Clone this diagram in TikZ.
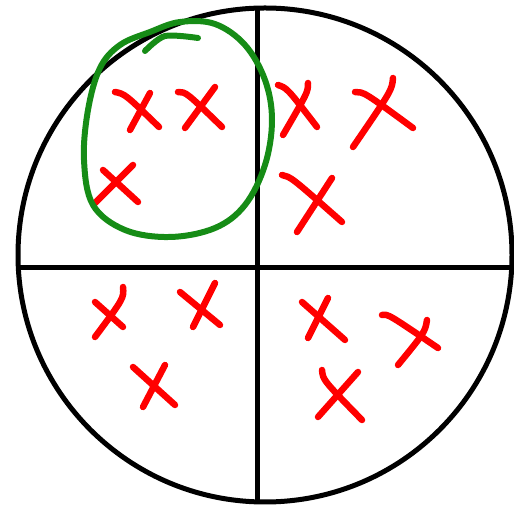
\documentclass[tikz,border=0pt]{standalone}
\usepackage{tikz}
\usetikzlibrary{calc}
\definecolor{loopgreen}{RGB}{22,140,22}
\tikzset{
  outline/.style={black,line width=0.1cm},
  redstroke/.style={red,line width=0.13cm,line cap=round,line join=round},
  greenloop/.style={loopgreen,line width=0.12cm,line cap=round,line join=round}
}
\begin{document}
\begin{tikzpicture}[x=0.02cm,y=-0.02cm]
  \useasboundingbox (0,0) rectangle (514,509);
  % Circle and quadrants
  \coordinate (C) at (265,255);
  \draw[outline] (C) circle[radius=247];
  \coordinate (top) at (257,8);
  \coordinate (bottom) at (257,502);
  \coordinate (left) at (18,268);
  \coordinate (right) at (512,268);
  \draw[outline] (top) -- (bottom);
  \draw[outline] (left) -- (right);
  % Crosses, top left
  \draw[redstroke] (115,92) .. controls (125,94) .. (159,127);
  \draw[redstroke] (150,93) -- (130,130);
  \draw[redstroke] (178,92) .. controls (186,92) .. (222,127);
  \draw[redstroke] (215,87) -- (185,128);
  \draw[redstroke] (103,170) -- (138,202);
  \draw[redstroke] (133,165) -- (95,203);
  % Crosses, top right
  \draw[redstroke] (278,85) .. controls (287,88) .. (317,127);
  \draw[redstroke] (308,83) .. controls (308,92) .. (283,135);
  \draw[redstroke] (355,92) .. controls (364,92) .. (413,128);
  \draw[redstroke] (393,78) .. controls (392,90) .. (353,147);
  \draw[redstroke] (282,175) .. controls (291,177) .. (342,222);
  \draw[redstroke] (332,178) -- (297,232);
  % Crosses, bottom left
  \draw[redstroke] (95,302) -- (123,327);
  \draw[redstroke] (123,287) .. controls (124,298) .. (95,337);
  \draw[redstroke] (180,292) -- (220,325);
  \draw[redstroke] (215,283) -- (193,327);
  \draw[redstroke] (133,367) -- (175,405);
  \draw[redstroke] (165,365) -- (143,407);
  % Crosses, bottom right
  \draw[redstroke] (302,302) -- (345,340);
  \draw[redstroke] (328,298) -- (308,338);
  \draw[redstroke] (382,315) .. controls (388,314) .. (438,348);
  \draw[redstroke] (427,320) .. controls (425,332) .. (398,365);
  \draw[redstroke] (322,370) .. controls (323,380) .. (362,420);
  \draw[redstroke] (358,372) -- (318,417);
  % Green loop round the three crosses
  \draw[greenloop] plot[smooth cycle,tension=0.6] coordinates {
    (150,32) (120,45) (100,68) (88,110) (84,160) (93,205) (125,230)
    (170,237) (215,228) (245,205) (265,165) (272,120) (265,80)
    (245,45) (215,24) (180,22)};
  \draw[greenloop] plot[smooth,tension=0.5] coordinates {(198,38) (165,36) (145,51)};
\end{tikzpicture}
\end{document}
